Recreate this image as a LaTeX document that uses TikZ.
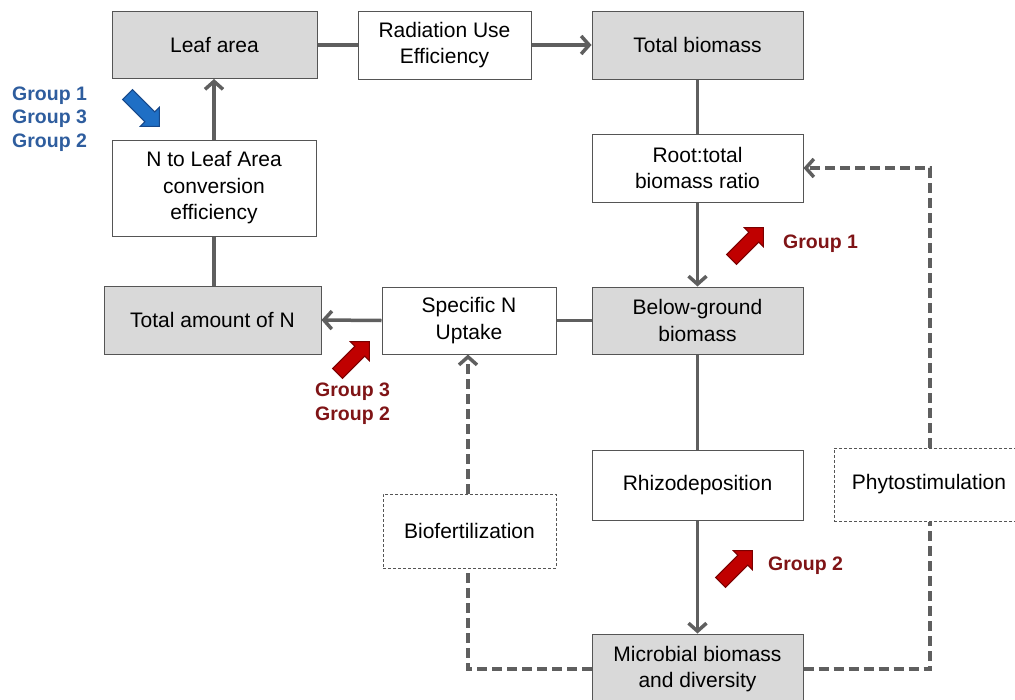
\documentclass[tikz,border=0pt]{standalone}
\usepackage{fontspec}
\setmainfont{Liberation Sans}
\usetikzlibrary{arrows.meta,shapes.arrows}
\definecolor{boxgray}{HTML}{D9D9D9}
\definecolor{linegray}{HTML}{5F5F5F}
\definecolor{bordergray}{HTML}{555555}
\definecolor{grpblue}{HTML}{2E5D9E}
\definecolor{grpred}{HTML}{7F1416}
\definecolor{arrblue}{HTML}{1F6FC5}
\definecolor{arrblueb}{HTML}{17488A}
\definecolor{arrred}{HTML}{C00000}
\definecolor{arrredb}{HTML}{7A0000}
\tikzset{
  box/.style={draw=bordergray, line width=1pt, inner sep=0pt, align=center,
    font=\fontsize{21}{26.5}\selectfont},
  graybox/.style={box, fill=boxgray},
  whitebox/.style={box, fill=white},
  dotbox/.style={box, fill=white, dash pattern=on 3pt off 2pt},
  conn/.style={draw=linegray, line width=3.5pt},
  arr/.style={conn, -{Straight Barb[length=8pt,width=18pt]}},
  dconn/.style={conn, dash pattern=on 10pt off 5pt},
  darr/.style={dconn, -{Straight Barb[length=8pt,width=18pt]}},
  grp/.style={font=\fontsize{19.5}{23.5}\selectfont\bfseries, align=left, anchor=west, inner sep=0pt},
  blockarr/.style={single arrow, minimum height=45pt, inner sep=6.5pt,
    single arrow head extend=6.5pt, line width=1pt}
}
\begin{document}
\begin{tikzpicture}[x=1pt,y=-1pt]
\useasboundingbox (0,0) rectangle (1015,699);
\clip (0,0) rectangle (1015,699);
% boxes
\node[graybox, minimum width=205pt, minimum height=67pt] (leaf) at (214.5,45) {Leaf area};
\node[whitebox, minimum width=173pt, minimum height=68pt] (rue) at (444.5,45) {Radiation Use\\Efficiency};
\node[graybox, minimum width=211pt, minimum height=68pt] (tb) at (697.5,45) {Total biomass};
\node[whitebox, minimum width=204pt, minimum height=96pt] (nla) at (214,188) {N to Leaf Area\\conversion\\efficiency};
\node[whitebox, minimum width=211pt, minimum height=68pt] (root) at (697.5,168) {Root:total\\biomass ratio};
\node[graybox, minimum width=217pt, minimum height=68pt] (tan) at (212.5,320) {Total amount of N};
\node[whitebox, minimum width=174pt, minimum height=67pt] (snu) at (469,320.5) {Specific N\\Uptake};
\node[graybox, minimum width=211pt, minimum height=67pt] (bg) at (697.5,320.5) {Below-ground\\biomass};
\node[whitebox, minimum width=211pt, minimum height=70pt] (rhizo) at (697.5,485) {Rhizodeposition};
\node[dotbox, minimum width=190pt, minimum height=73pt] (phyto) at (929,484.5) {Phytostimulation};
\node[dotbox, minimum width=173pt, minimum height=74pt] (bio) at (469.5,531) {Biofertilization};
\node[graybox, minimum width=211pt, minimum height=70pt] (mic) at (697.5,669) {Microbial biomass\\and diversity};
% connectors
\draw[conn] (leaf.east) -- (rue.west);
\draw[arr] (rue.east) -- (tb.west);
\draw[conn] (tb.south) -- (root.north);
\draw[arr] (root.south) -- (bg.north);
\draw[conn] (bg.west) -- (snu.east);
\draw[arr] (snu.west) -- (tan.east);
\draw[conn] (tan.north -| nla.south) -- (nla.south);
\draw[arr] (nla.north) -- (leaf.south -| nla.north);
\draw[conn] (bg.south) -- (rhizo.north);
\draw[arr] (rhizo.south) -- (mic.north);
\coordinate (mr) at (930,669);
\coordinate (ml) at (468,669);
\draw[dconn] (mic.east) -- (mr) -- (phyto.south -| mr);
\draw[darr] (phyto.north -| mr) |- (root.east);
\draw[dconn] (mic.west) -- (ml) -- (bio.south -| ml);
\draw[darr] (bio.north -| ml) -- (snu.south -| ml);
% group labels
\node[grp, text=grpblue] (gb) at (12,119) {Group 1\\Group 3\\Group 2};
\node[blockarr, fill=arrblue, draw=arrblueb, rotate=-45] (ab) at (141,108) {};
\node[grp, text=grpred] (gr1) at (783,244) {Group 1};
\node[blockarr, fill=arrred, draw=arrredb, rotate=45] (ar1) at (745,246) {};
\node[grp, text=grpred] (gr2) at (315,403.5) {Group 3\\Group 2};
\node[blockarr, fill=arrred, draw=arrredb, rotate=45] (ar2) at (351,360) {};
\node[grp, text=grpred] (gr3) at (768,566) {Group 2};
\node[blockarr, fill=arrred, draw=arrredb, rotate=45] (ar3) at (734,569) {};
\end{tikzpicture}
\end{document}
